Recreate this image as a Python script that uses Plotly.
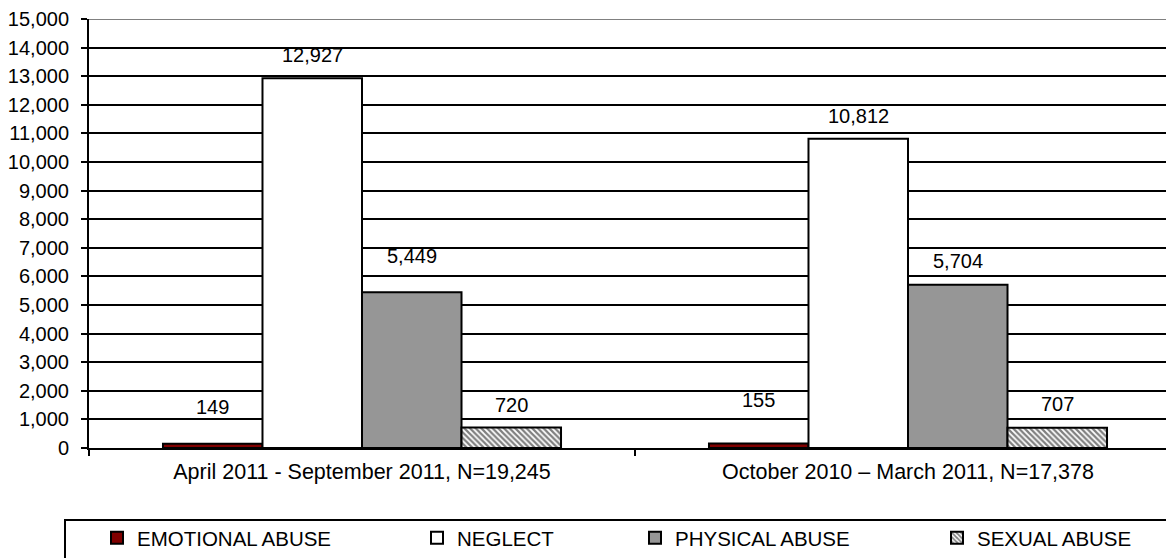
import plotly.graph_objects as go

# ---- data ----
periods = ["April 2011 - September 2011, N=19,245", "October 2010 – March 2011, N=17,378"]
series_names = ["EMOTIONAL ABUSE", "NEGLECT", "PHYSICAL ABUSE", "SEXUAL ABUSE"]
emotional = [149, 155]
neglect = [12927, 10812]
physical = [5449, 5704]
sexual = [720, 707]
y_tick_values = list(range(0, 15001, 1000))

# ---- styling ----
# The page body has an 8px margin, so the figure's origin sits at (8, 8).
PAGE_OFF = 8
W, H = 1174, 558
ML, MT = 81, 11                     # plot area starts at page x=89, y=19
cat_px = 546.0                      # pixel width of one category slot
plot_w = int(2 * cat_px)            # 1092
plot_h = 429
MR = W - ML - plot_w
MB = H - MT - plot_h
x_range = [-0.5, 1.5]
bargap = 0.271
bar_px = cat_px * (1 - bargap) / 4

fills = ["#800000", "#FFFFFF", "#969696", "#FFFFFF"]
patterns = [None, None, None, dict(shape="\\", fgcolor="black", bgcolor="white", size=4, solidity=0.55)]
# pixel lift of each value label above its bar top (per series, per period)
label_lift = [[37, 44], [23, 23], [36, 24], [22, 24]]
# legend symbol centre (page px)
legend_px = [123, 443, 661, 963]
legend_ids = ["legend", "legend2", "legend3", "legend4"]

FONT = "Liberation Sans, Arial, sans-serif"
PLOT_LEFT = ML + PAGE_OFF
PLOT_BOTTOM = MT + PAGE_OFF + plot_h


def px_to_paper_x(px):
    return (px - PLOT_LEFT) / plot_w


def px_to_paper_y(py):
    return (PLOT_BOTTOM - py) / plot_h


values = [emotional, neglect, physical, sexual]

fig = go.Figure()
for i, (name, vals) in enumerate(zip(series_names, values)):
    marker = dict(color=fills[i], line=dict(color="black", width=2))
    if patterns[i]:
        marker["pattern"] = patterns[i]
    fig.add_trace(go.Bar(
        x=periods, y=vals, name=name, marker=marker, showlegend=True,
        legend=legend_ids[i], hoverinfo="x+y+name",
    ))
    for j, v in enumerate(vals):
        fig.add_annotation(
            x=periods[j], y=v, text=f"{v:,}", showarrow=False,
            xref="x", yref="y", yanchor="middle",
            xshift=(i - 1.5) * bar_px, yshift=label_lift[i][j],
            font=dict(family=FONT, size=20, color="black"),
        )

layout_legends = {}
for i, lid in enumerate(legend_ids):
    layout_legends[lid] = dict(
        x=px_to_paper_x(legend_px[i] - 26), y=px_to_paper_y(538),
        xanchor="left", yanchor="middle", orientation="h",
        bgcolor="rgba(0,0,0,0)", borderwidth=0,
        font=dict(family=FONT, size=20.5, color="black"),
    )

fig.update_layout(
    width=W, height=H,
    margin=dict(l=ML, r=MR, t=MT, b=MB, autoexpand=False),
    paper_bgcolor="white", plot_bgcolor="white",
    showlegend=True,
    barmode="group", bargap=bargap, bargroupgap=0,
    font=dict(family=FONT, size=20, color="black"),
    **layout_legends,
    xaxis=dict(
        type="category", range=x_range, tickson="boundaries",
        ticks="outside", ticklen=6, tickwidth=2, tickcolor="black",
        showline=True, linecolor="black", linewidth=2,
        showgrid=False, tickfont=dict(family=FONT, size=21.5, color="black"),
        ticklabelstandoff=3, fixedrange=True, automargin=False,
    ),
    yaxis=dict(
        range=[0, 15000], tickvals=y_tick_values, tickformat=",d",
        ticks="outside", ticklen=6, tickwidth=2, tickcolor="black",
        showline=True, linecolor="black", linewidth=2,
        showgrid=True, gridcolor="black", gridwidth=2, zeroline=False,
        tickfont=dict(family=FONT, size=20, color="black"),
        ticklabelstandoff=8, automargin=False,
    ),
    shapes=[
        dict(type="line", xref="paper", yref="y", x0=0, x1=1, y0=15000, y1=15000,
             line=dict(color="#808080", width=2)),
        dict(type="rect", xref="paper", yref="paper",
             x0=px_to_paper_x(65), x1=1.02,
             y0=px_to_paper_y(520), y1=px_to_paper_y(580),
             line=dict(color="black", width=2), fillcolor="rgba(0,0,0,0)"),
    ],
)

fig.write_html("out.html")
